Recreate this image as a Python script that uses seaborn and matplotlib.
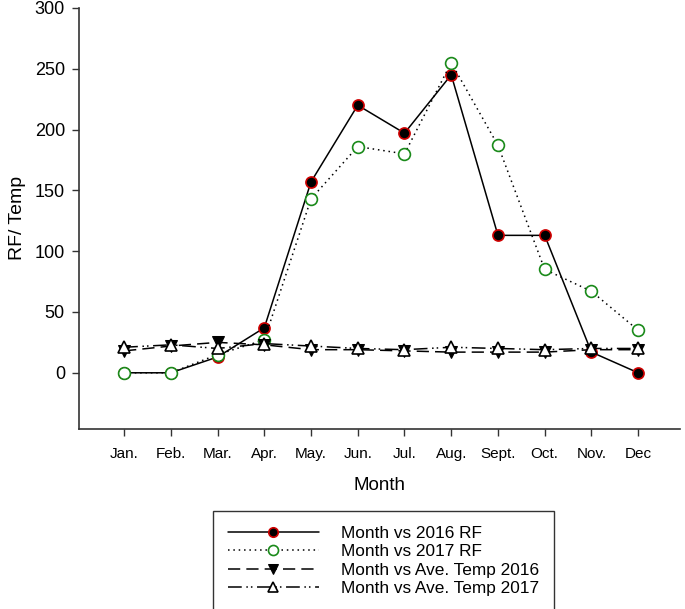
import numpy as np
import pandas as pd
import matplotlib
matplotlib.use("Agg")
import matplotlib.pyplot as plt
import seaborn as sns

months = ["Jan.", "Feb.", "Mar.", "Apr.", "May.", "Jun.", "Jul.", "Aug.", "Sept.", "Oct.", "Nov.", "Dec"]
rf_2016 = [0, 0, 13, 37, 157, 220, 197, 245, 113, 113, 17, 0]
rf_2017 = [0, 0, 15, 27, 143, 186, 180, 255, 187, 85, 67, 35]
temp_2016 = [18, 22, 25, 23, 19, 19, 18, 17, 17, 17, 19, 19]
temp_2017 = [21, 23, 20, 24, 22, 20, 19, 21, 20, 19, 20, 20]

sns.set_style("ticks", {"text.color": "black", "xtick.color": "black",
                        "ytick.color": "black", "axes.labelcolor": "black"})
plt.rcParams["font.family"] = ["Liberation Sans", "DejaVu Sans"]

x = np.arange(len(months))
df = pd.DataFrame({"x": x, "rf16": rf_2016, "rf17": rf_2017, "t16": temp_2016, "t17": temp_2017})

fig = plt.figure(figsize=(6.85, 6.09), dpi=100)
ax = fig.add_axes([0.115, 0.296, 0.878, 0.691])

sns.lineplot(data=df, x="x", y="rf16", ax=ax, color="black", lw=1.1, linestyle="-",
             marker="o", markersize=8, markerfacecolor="black", markeredgecolor="#d00000",
             markeredgewidth=1.2, label="Month vs 2016 RF")
sns.lineplot(data=df, x="x", y="rf17", ax=ax, color="black", lw=1.1, linestyle=(0, (1, 2.5)),
             marker="o", markersize=8.5, markerfacecolor="white", markeredgecolor="#1a8a1a",
             markeredgewidth=1.2, label="Month vs 2017 RF")
sns.lineplot(data=df, x="x", y="t16", ax=ax, color="black", lw=1.1, linestyle=(0, (8, 4)),
             marker="v", markersize=8, markerfacecolor="black", markeredgecolor="black",
             label="Month vs Ave. Temp 2016")
sns.lineplot(data=df, x="x", y="t17", ax=ax, color="black", lw=1.1,
             linestyle=(0, (9, 3, 1, 2, 1, 3)),
             marker="^", markersize=8, markerfacecolor="white", markeredgecolor="black",
             markeredgewidth=1.2, label="Month vs Ave. Temp 2017")

ax.set_xlim(-0.97, 11.9)
ax.set_ylim(-46, 300)
ax.set_yticks([0, 50, 100, 150, 200, 250, 300])
ax.set_xticks(x)
ax.set_xticklabels(months)
ax.tick_params(length=5, width=1, color="#333333", labelcolor="black")
ax.tick_params(axis="x", labelsize=11, pad=8)
ax.tick_params(axis="y", labelsize=13, pad=5)
ax.set_xlabel("Month", fontsize=13.5, labelpad=12, color="black")
ax.set_ylabel("RF/ Temp", fontsize=14, labelpad=6, color="black")
sns.despine(ax=ax)
for s in ["left", "bottom"]:
    ax.spines[s].set_color("#333333")
    ax.spines[s].set_linewidth(1.2)

handles, labels = ax.get_legend_handles_labels()
ax.get_legend().remove()
leg = fig.legend(handles, labels, loc="upper left", bbox_to_anchor=(213 / 685, 1 - 511 / 609),
                 bbox_transform=fig.transFigure, borderaxespad=0, fontsize=12.4,
                 handlelength=5.3, frameon=True, fancybox=False, edgecolor="black",
                 borderpad=0.85, labelspacing=0.2, handletextpad=1.3, markerscale=0.85,
                 labelcolor="black")
leg.get_frame().set_linewidth(1.0)

fig.savefig("out.png", dpi=100)
